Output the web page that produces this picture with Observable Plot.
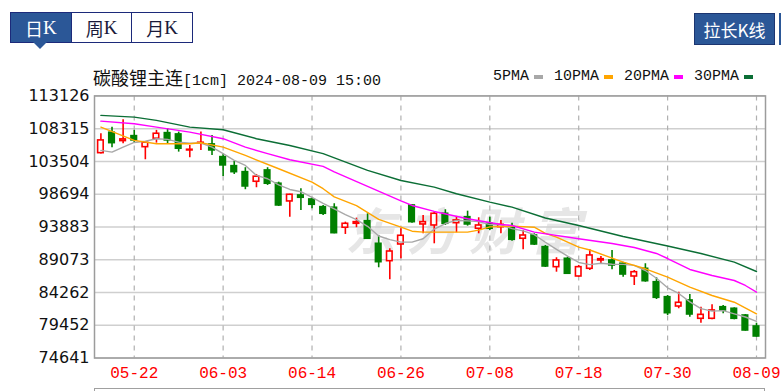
<!DOCTYPE html>
<html><head><meta charset="utf-8">
<script src="https://cdn.jsdelivr.net/npm/d3@7"></script>
<script src="https://cdn.jsdelivr.net/npm/@observablehq/plot@0.6"></script>
<style>
body{margin:0;background:#fff;}
#wrap{position:relative;width:781px;height:391px;overflow:hidden;font-family:"Noto Sans CJK SC",sans-serif;}
#head{position:absolute;left:0;top:0;width:781px;height:90px;}
.tabs{position:absolute;left:10px;top:12px;width:183px;height:31px;border:1.5px solid #1c2a7a;box-sizing:border-box;display:flex;}
.tab{flex:1;display:flex;align-items:center;justify-content:center;font-size:18px;color:#1a1a3a;border-left:1.5px solid #1c2a7a;}
.tab:first-child{border-left:none;background:#2b5797;color:#fff;}
.k{font-family:"Liberation Serif",serif;font-size:19px;}
.tri{position:absolute;left:33px;top:42px;width:0;height:0;border-left:7px solid transparent;border-right:7px solid transparent;border-top:7px solid #2b5797;}
.btn{position:absolute;left:694px;top:13px;width:81px;height:32px;box-sizing:border-box;background:#2b5797;border:1.5px solid #1c3570;color:#fff;font-size:17px;display:flex;align-items:center;justify-content:center;}
.btn2{position:absolute;left:779px;top:13px;width:4px;height:32px;background:#2b5797;}
.title{position:absolute;left:93px;top:66px;line-height:22px;white-space:nowrap;color:#111;}
.title .cjk{font-size:18px;}
.title .asc{font-family:"Liberation Mono",monospace;font-size:15px;}
.legend{position:absolute;left:493px;top:66px;display:flex;gap:11px;line-height:22px;font-family:"Liberation Mono",monospace;font-size:15px;color:#111;}
.legend .item{display:flex;align-items:center;gap:5px;}
.legend .sw{width:9px;height:4px;display:inline-block;}
#wm{position:absolute;left:345px;top:192px;font-size:50px;font-weight:bold;font-style:italic;color:#e6e6e6;letter-spacing:12px;white-space:nowrap;z-index:0;}
#chart{position:absolute;left:0;top:90px;z-index:1;}
.vol{position:absolute;left:94px;top:388px;width:671px;height:10px;box-sizing:border-box;border:1.5px solid #a0a0a0;border-bottom:none;z-index:2;}
</style>
</head>
<body>
<div id="wrap">
  <div id="wm">东方财富</div>
  <div id="head">
    <div class="tabs">
      <div class="tab">日<span class="k">K</span></div>
      <div class="tab">周<span class="k">K</span></div>
      <div class="tab">月<span class="k">K</span></div>
    </div>
    <div class="tri"></div>
    <div class="btn">拉长K线</div>
    <div class="btn2"></div>
    <div class="title"><span class="cjk">碳酸锂主连</span><span class="asc">[1cm] 2024-08-09 15:00</span></div>
    <div class="legend" id="legend"></div>
  </div>
  <div id="chart"></div>
  <div class="vol"></div>
</div>
<script>
// ---- data ----
const dates = ["05-17","05-20","05-21","05-22","05-23","05-24","05-27","05-28","05-29","05-30","05-31",
"06-03","06-04","06-05","06-06","06-07","06-11","06-12","06-13","06-14","06-17","06-18","06-19","06-20","06-21",
"06-24","06-25","06-26","06-27","06-28","07-01","07-02","07-03","07-04","07-05","07-08","07-09","07-10","07-11",
"07-12","07-15","07-16","07-17","07-18","07-19","07-22","07-23","07-24","07-25","07-26","07-29","07-30","07-31",
"08-01","08-02","08-05","08-06","08-07","08-08","08-09"];
const open  = [104720,107720,106490,107220,105600,106840,107660,107470,105120,106150,106000,
104140,102810,101930,100520,102180,100230,97630,98510,97920,96790,96700,93770,94350,94730,
91410,88860,91310,97040,94250,94100,95820,94440,95320,93620,94350,93850,93850,92150,
92630,90920,87980,89210,86610,87740,88960,88960,88480,86610,87740,85770,83570,82200,
83090,80400,80400,82100,81870,80880,79270];
const high  = [107570,108540,109630,108060,106300,108060,108310,107810,105850,107810,107320,
104640,103500,102580,101590,102580,100460,98700,99490,98170,97040,97290,94590,95180,95820,
92630,90680,93620,97100,95570,96060,96410,95430,96200,95230,95320,94840,94440,93370,
92880,91160,89360,89450,88230,90530,89550,90430,88710,87490,88480,86420,83820,84300,
83970,82100,82450,82350,82010,81030,79750];
const low   = [104600,105520,106100,106190,103750,106190,106000,104870,104050,105120,104390,
101300,101590,99350,99640,99980,96890,95320,96310,96560,95570,92880,92780,93770,92050,
87890,86130,89210,94440,92880,91410,94100,93030,94000,92880,93370,92880,91800,90530,
91160,87930,87240,86900,86510,87490,88480,87600,86510,85290,85770,83230,80880,81870,
80630,79750,80250,81130,80250,78580,77690];
const close = [106590,106190,106740,106590,106250,107570,106590,105370,105220,106250,105120,
102920,101930,99830,101260,100230,97040,98610,98170,97140,95820,92970,94350,94590,92150,
88710,90280,92590,94590,94590,95820,94350,94840,94250,94100,93620,94200,92000,92630,
91310,88080,88960,87010,87980,89700,89150,88230,86900,87240,85920,83480,81220,82750,
81030,80980,81620,81620,80400,78680,77800];

const ma5 = [105120,104870,105600,106290,106470,106840,106740,106340,106190,106200,105600,
104640,103650,102920,101450,100960,100060,99390,99060,98240,97360,96540,95690,94970,93980,
92550,92020,91660,91660,92150,93570,94390,94840,94770,94670,94230,94200,93630,93310,
92750,91640,90600,89600,88670,88350,88560,88410,88390,88240,87490,86350,84950,84120,
82880,81890,81520,81600,81130,80660,80020];
const ma10 = [["05-17",108540],["05-22",106590],["05-24",106100],["05-29",106100],["05-30",106250],
["06-03",105600],["06-05",104380],["06-11",102430],["06-14",100460],["06-17",99500],["06-18",98300],
["06-20",97020],["06-24",95000],["06-26",93850],["06-27",93260],["06-28",93120],["07-04",93120],
["07-05",93410],["07-08",93900],["07-10",94000],["07-12",93850],["07-15",92950],["07-16",92400],
["07-18",90920],["07-19",90500],["07-24",88710],["07-26",87740],["07-30",86510],["08-01",85040],
["08-05",83820],["08-07",82830],["08-09",81130]];
const ma20 = [["05-17",109420],["05-22",109040],["05-24",108540],["05-29",107810],["06-03",106840],
["06-05",105600],["06-07",104640],["06-12",103750],["06-17",102770],["06-18",101960],["06-21",99830],
["06-26",97700],["06-27",97040],["07-01",96160],["07-04",95080],["07-09",94250],["07-10",94100],
["07-12",93120],["07-18",92150],["07-23",91460],["07-25",90870],["07-29",89990],["07-30",89250],
["08-01",87640],["08-05",86760],["08-07",86020],["08-08",85290],["08-09",84310]];
const ma30 = [["05-17",110260],["05-22",110010],["05-24",109530],["05-29",108540],["06-03",108160],
["06-06",106840],["06-12",105850],["06-17",104640],["06-21",102180],["06-26",100710],["07-01",99730],
["07-03",98760],["07-08",97530],["07-10",96790],["07-15",95200],["07-18",94100],["07-24",92480],
["07-30",91090],["08-02",89990],["08-07",88710],["08-09",87340]];

const maNames  = ["5PMA","10PMA","20PMA","30PMA"];
const maColors = ["#a8a8a8","#ffa500","#ff00ff","#0b6e35"];
const yTicks = [113126,108315,103504,98694,93883,89073,84262,79452,74641];
const xTicks = ["05-22","06-03","06-14","06-26","07-08","07-18","07-30","08-09"];

// ---- legend ----
const leg = document.getElementById("legend");
maNames.forEach((n,k)=>{
  const it = document.createElement("div"); it.className="item";
  it.innerHTML = `<span>${n}</span><span class="sw" style="background:${maColors[k]}"></span>`;
  leg.appendChild(it);
});

// ---- chart ----
const idx = d => dates.indexOf(d);
const candles = dates.map((d,i)=>({d, i, o:open[i], h:high[i], l:low[i], c:close[i]}));
const up = r => r.c >= r.o;
const RED = "#ff0000", GREEN = "#008000";
const maSeries = [dates.map((d,i)=>[d, ma5[i]]), ma10, ma20, ma30];

const chart = Plot.plot({
  width: 781, height: 301,
  marginLeft: 94, marginRight: 16, marginTop: 5.4, marginBottom: 33.5,
  style: {background: "transparent", color: "#111", overflow: "visible"},
  x: {type: "linear", domain: [-0.576, 59.81], axis: null},
  y: {domain: [74641, 113126], axis: null},
  color: {type: "identity"},
  marks: [
    Plot.ruleY(yTicks, {stroke: "#cfcfcf", strokeWidth: 1.5}),
    Plot.ruleX(xTicks, {x: d => idx(d), stroke: "#b0b0b0", strokeDasharray: "5,5", strokeWidth: 1.2}),
    Plot.frame({stroke: "#9c9c9c", strokeWidth: 1.5}),
    Plot.axisY({ticks: yTicks, tickSize: 0, tickPadding: 5, tickFormat: d => String(d),
      fontSize: 16, fontFamily: "DejaVu Sans", label: null}),
    Plot.axisX({ticks: xTicks.map(idx), tickSize: 0, tickPadding: 9, tickFormat: i => dates[i],
      fontSize: 16, fontFamily: "Liberation Mono", color: RED, label: null}),
    Plot.ruleX(candles, {x: "i", y1: "l", y2: "h", stroke: r => up(r) ? RED : GREEN, strokeWidth: 1.6}),
    Plot.rect(candles, {x1: r => r.i - 0.25, x2: r => r.i + 0.25,
      y1: r => Math.min(r.o, r.c), y2: r => Math.max(r.o, r.c),
      fill: r => up(r) ? "#ffffff" : GREEN, stroke: r => up(r) ? RED : GREEN, strokeWidth: 1.6}),
    ...maSeries.map((s,k) => Plot.line(s, {x: p => idx(p[0]), y: p => p[1], stroke: maColors[k], strokeWidth: 1.4}))
  ]
});
document.getElementById("chart").appendChild(chart);
</script>
</body></html>
